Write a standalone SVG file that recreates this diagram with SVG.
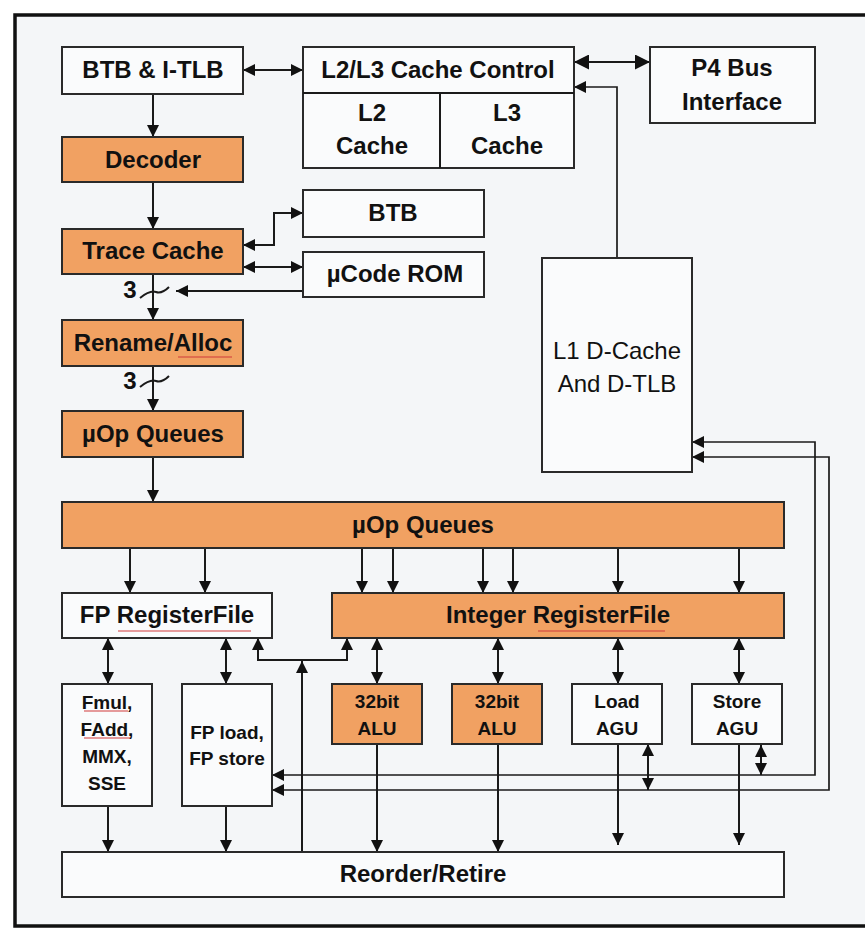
<svg xmlns="http://www.w3.org/2000/svg" width="865" height="929" viewBox="0 0 865 929">
<style>
.box{fill:#fafbfc;stroke:#2a2a2a;stroke-width:2}
.org{fill:#f1a162;stroke:#2a2a2a;stroke-width:2}
.t{font-family:"Liberation Sans",Arial,sans-serif;font-weight:bold;font-size:24px;fill:#111;text-anchor:middle}
.s{font-size:19px}
.r{font-weight:normal;font-size:24px}
.c{fill:none;stroke:#1a1a1a;stroke-width:2}
.thin{stroke-width:1.7}
.sq{stroke:#d03a3a;stroke-width:1.2;fill:none}
</style>
<defs>
<marker id="a" viewBox="0 0 10 10" refX="10" refY="5" markerWidth="12" markerHeight="12" markerUnits="userSpaceOnUse" orient="auto-start-reverse"><path d="M0,0L10,5L0,10z" fill="#111"/></marker>
<marker id="ab" viewBox="0 0 10 10" refX="10" refY="5" markerWidth="15" markerHeight="15" markerUnits="userSpaceOnUse" orient="auto-start-reverse"><path d="M0,0L10,5L0,10z" fill="#111"/></marker>
</defs>
<rect x="0" y="0" width="865" height="929" fill="#ffffff"/>
<rect x="15" y="15" width="860" height="911" fill="#f4f6f8" stroke="#111" stroke-width="3.5"/>

<g id="connectors">
<path class="c" d="M243,70H303" marker-start="url(#a)" marker-end="url(#a)"/>
<path class="c" d="M574,62H650" stroke-width="4" marker-start="url(#ab)" marker-end="url(#ab)"/>
<path class="c thin" d="M617,258V87H574" marker-end="url(#a)"/>
<path class="c" d="M153,94V137" marker-end="url(#a)"/>
<path class="c" d="M153,182V229" marker-end="url(#a)"/>
<path class="c" d="M243,245H274V213H303" marker-start="url(#a)" marker-end="url(#a)"/>
<path class="c" d="M243,267H303" marker-start="url(#a)" marker-end="url(#a)"/>
<path class="c" d="M303,291H176" marker-end="url(#a)"/>
<path class="c" d="M153,274V320" marker-end="url(#a)"/>
<path class="c" d="M140,298Q150,290 156,292T169,287"/>
<path class="c" d="M153,366V411" marker-end="url(#a)"/>
<path class="c" d="M140,387Q150,379 156,381T169,376"/>
<path class="c" d="M153,457V502" stroke-width="3" marker-end="url(#a)"/>
<path class="c" d="M130,548V593" marker-end="url(#a)"/>
<path class="c" d="M205,548V593" marker-end="url(#a)"/>
<path class="c" d="M362,548V593" marker-end="url(#a)"/>
<path class="c" d="M393,548V593" marker-end="url(#a)"/>
<path class="c" d="M483,548V593" marker-end="url(#a)"/>
<path class="c" d="M513,548V593" marker-end="url(#a)"/>
<path class="c" d="M618,548V593" marker-end="url(#a)"/>
<path class="c" d="M739,548V593" marker-end="url(#a)"/>
<path class="c" d="M108,638V684" marker-start="url(#a)" marker-end="url(#a)"/>
<path class="c" d="M226,638V684" marker-start="url(#a)" marker-end="url(#a)"/>
<path class="c" d="M377,638V684" marker-start="url(#a)" marker-end="url(#a)"/>
<path class="c" d="M498,638V684" marker-start="url(#a)" marker-end="url(#a)"/>
<path class="c" d="M618,638V684" marker-start="url(#a)" marker-end="url(#a)"/>
<path class="c" d="M739,638V684" marker-start="url(#a)" marker-end="url(#a)"/>
<path class="c" d="M302,852V661" marker-end="url(#a)"/>
<path class="c" d="M258,638V660H347V638" marker-start="url(#a)" marker-end="url(#a)"/>
<path class="c" d="M108,806V852" marker-end="url(#a)"/>
<path class="c" d="M226,806V852" marker-end="url(#a)"/>
<path class="c" d="M377,744V852" marker-end="url(#a)"/>
<path class="c" d="M498,744V852" marker-end="url(#a)"/>
<path class="c" d="M618,744V845" marker-end="url(#a)"/>
<path class="c" d="M739,744V845" marker-end="url(#a)"/>
<path class="c" d="M648,744V790" marker-start="url(#a)" marker-end="url(#a)"/>
<path class="c" d="M761,745V775" marker-start="url(#a)" marker-end="url(#a)"/>
<path class="c thin" d="M692,442H815V775H272" marker-start="url(#a)" marker-end="url(#a)"/>
<path class="c thin" d="M692,457H829V790H272" marker-start="url(#a)" marker-end="url(#a)"/>
</g>

<g id="btb-itlb"><rect class="box" x="62" y="47" width="181" height="47"/><text class="t" x="153" y="78">BTB &amp; I-TLB</text></g>
<g id="l2l3"><rect class="box" x="303" y="47" width="271" height="121"/><path class="c" d="M303,93H574M440,93V168"/><text class="t" x="438" y="78">L2/L3 Cache Control</text>
<text class="t" x="372" y="121">L2</text><text class="t" x="372" y="154">Cache</text>
<text class="t" x="507" y="121">L3</text><text class="t" x="507" y="154">Cache</text></g>
<g id="p4bus"><rect class="box" x="650" y="47" width="165" height="76"/><text class="t" x="732" y="76">P4 Bus</text><text class="t" x="732" y="110">Interface</text></g>
<g id="decoder"><rect class="org" x="62" y="137" width="181" height="45"/><text class="t" x="153" y="168">Decoder</text></g>
<g id="btb"><rect class="box" x="303" y="190" width="181" height="47"/><text class="t" x="393" y="221">BTB</text></g>
<g id="trace"><rect class="org" x="62" y="229" width="181" height="45"/><text class="t" x="153" y="259">Trace Cache</text></g>
<g id="ucode"><rect class="box" x="303" y="252" width="181" height="45"/><text class="t" x="395" y="282">µCode ROM</text></g>
<g id="l1"><rect class="box" x="542" y="258" width="150" height="214" stroke-width="1.6"/><text class="t r" x="617" y="359">L1 D-Cache</text><text class="t r" x="617" y="392">And D-TLB</text></g>
<g id="rename"><rect class="org" x="62" y="320" width="181" height="46"/><text class="t" x="153" y="351">Rename/Alloc</text><path class="sq" d="M178,357H232"/></g>
<g id="uopq1"><rect class="org" x="62" y="411" width="181" height="46"/><text class="t" x="153" y="442">µOp Queues</text></g>
<text class="t" x="130" y="298" font-size="13">3</text>
<text class="t" x="130" y="389" font-size="13">3</text>
<g id="uopq2"><rect class="org" x="62" y="502" width="722" height="46"/><text class="t" x="423" y="533">µOp Queues</text></g>
<g id="fprf"><rect class="box" x="62" y="593" width="210" height="45"/><text class="t" x="167" y="623">FP RegisterFile</text><path class="sq" d="M118,631H251"/></g>
<g id="intrf"><rect class="org" x="332" y="593" width="452" height="45"/><text class="t" x="558" y="623">Integer RegisterFile</text><path class="sq" d="M538,631H665"/></g>
<g id="fmul"><rect class="box" x="62" y="684" width="90" height="122"/><text class="t s" x="107" y="709">Fmul,</text><text class="t s" x="107" y="736">FAdd,</text><text class="t s" x="107" y="763">MMX,</text><text class="t s" x="107" y="790">SSE</text><path class="sq" d="M84,711H128M84,738H130"/></g>
<g id="fpload"><rect class="box" x="182" y="684" width="90" height="122"/><text class="t s" x="227" y="739">FP load,</text><text class="t s" x="227" y="765">FP store</text></g>
<g id="alu1"><rect class="org" x="332" y="684" width="90" height="60"/><text class="t s" x="377" y="708">32bit</text><text class="t s" x="377" y="735">ALU</text></g>
<g id="alu2"><rect class="org" x="452" y="684" width="90" height="60"/><text class="t s" x="497" y="708">32bit</text><text class="t s" x="497" y="735">ALU</text></g>
<g id="loadagu"><rect class="box" x="572" y="684" width="90" height="60"/><text class="t s" x="617" y="708">Load</text><text class="t s" x="617" y="735">AGU</text></g>
<g id="storeagu"><rect class="box" x="692" y="684" width="90" height="60"/><text class="t s" x="737" y="708">Store</text><text class="t s" x="737" y="735">AGU</text></g>
<g id="reorder"><rect class="box" x="62" y="852" width="722" height="45"/><text class="t" x="423" y="882">Reorder/Retire</text></g>
</svg>
